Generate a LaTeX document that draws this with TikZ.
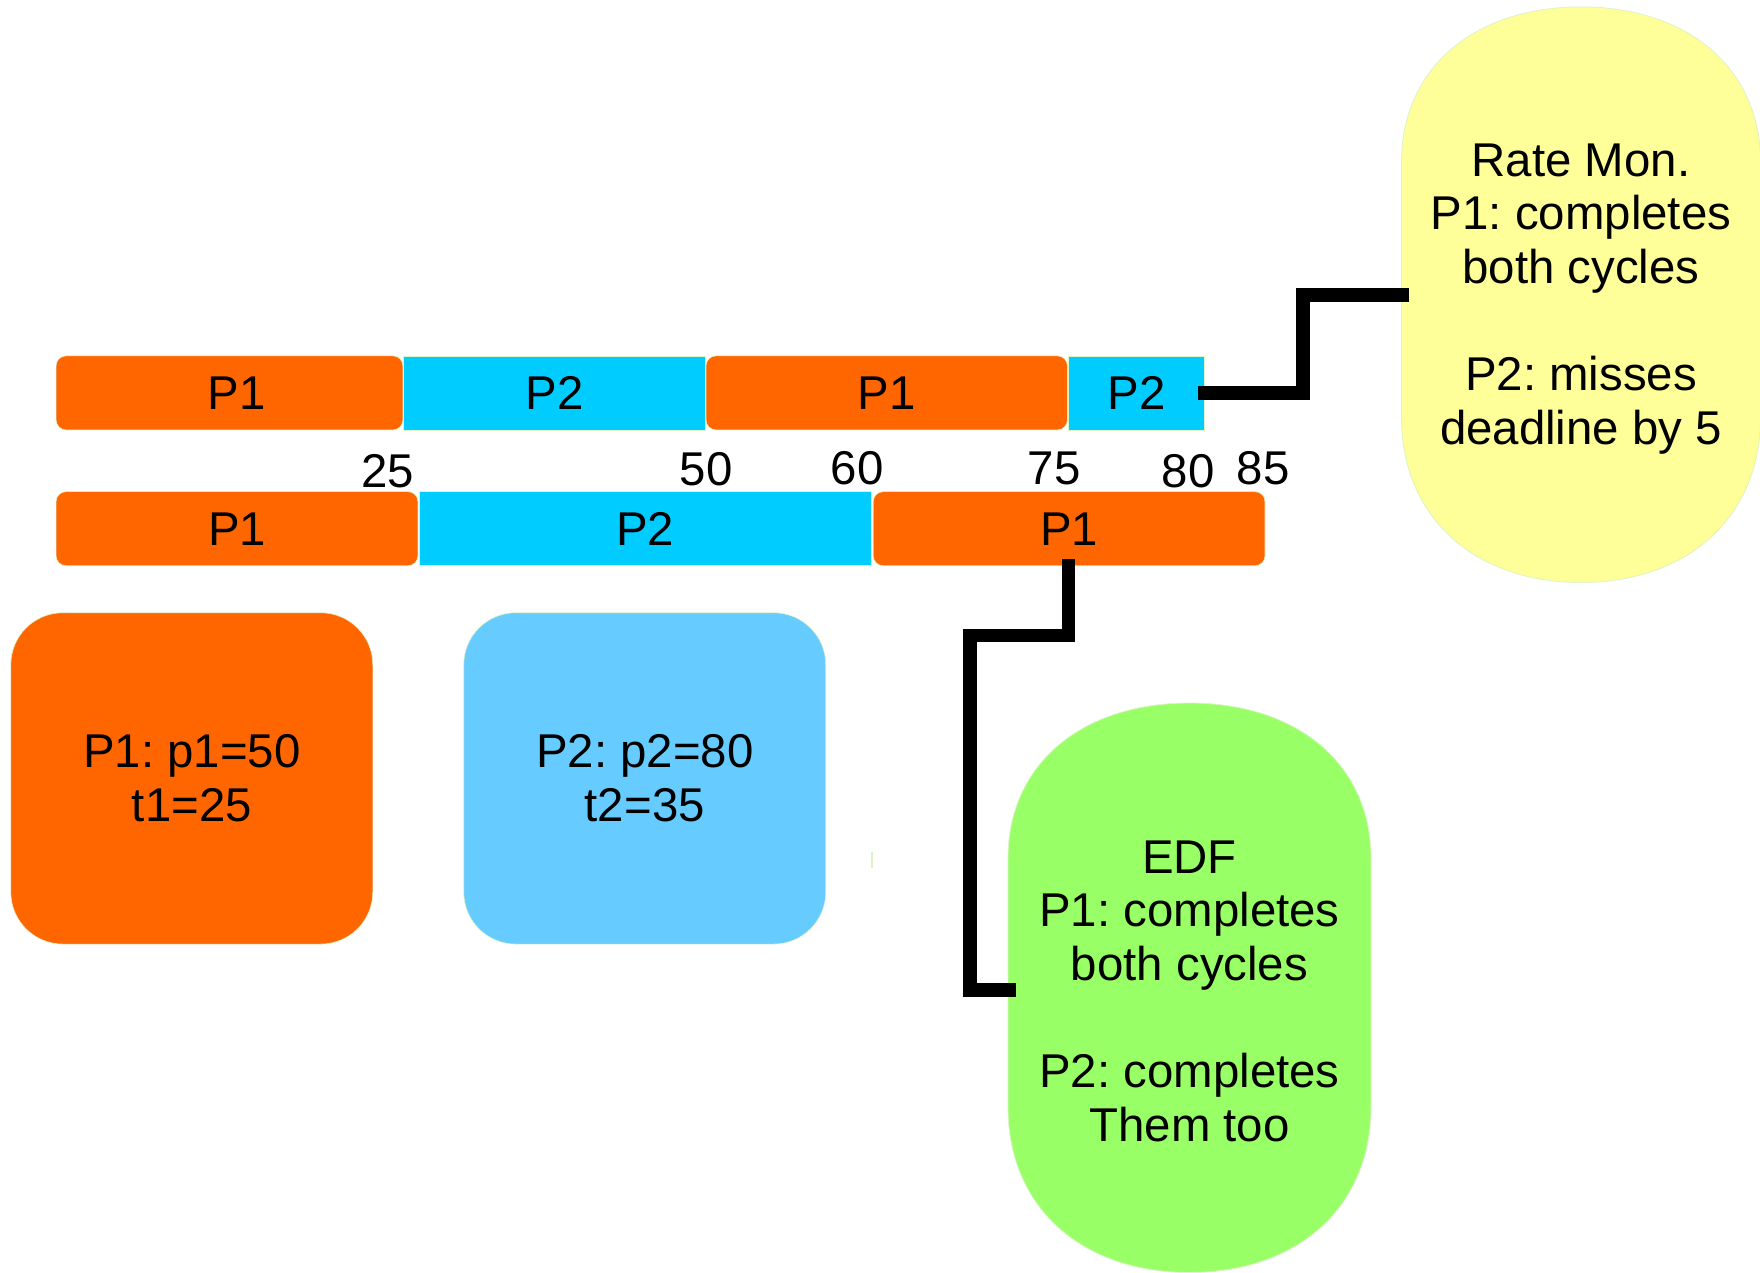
\documentclass[tikz,border=0pt]{standalone}
\usepackage{fontspec}
\setmainfont{Liberation Sans}
\frenchspacing
\usetikzlibrary{calc}
\definecolor{orng}{HTML}{FF6600}
\definecolor{cyn}{HTML}{00CCFF}
\definecolor{lblue}{HTML}{66CCFF}
\definecolor{ylw}{HTML}{FFFF99}
\definecolor{grn}{HTML}{99FF66}
\definecolor{edge}{HTML}{DDF3C8}
\begin{document}
\begin{tikzpicture}[x=0.5pt,y=-0.5pt,
  txt/.style={font=\fontsize{23.7pt}{26.8pt}\selectfont, text=black},
  bar/.style={txt, rectangle, draw=edge, line width=0.3pt, outer sep=0pt, inner sep=0pt, minimum height=37.05pt},
  p1bar/.style={bar, fill=orng, rounded corners=5pt},
  p2bar/.style={bar, fill=cyn},
  bigbox/.style={txt, rectangle, draw=edge, line width=0.3pt, rounded corners=26pt, minimum width=181pt, minimum height=165.65pt, align=center, outer sep=0pt},
  num/.style={txt, anchor=base, inner sep=0pt},
  conn/.style={draw=black, line width=6.9pt, line join=miter}
]
\useasboundingbox (0,0) rectangle (1760,1273);
% timeline bars, top row
\node[p1bar, minimum width=173.4pt] (t1) at (229.5,392.9) {\hspace*{7pt}P1};
\node[p2bar, minimum width=150.95pt] (t2) at (554.5,392.9) {P2};
\node[p1bar, minimum width=180.7pt] (t3) at (886.7,392.9) {P1};
\node[p2bar, minimum width=67.9pt] (t4) at (1136.4,392.9) {P2};
% timeline bars, second row
\node[p1bar, minimum width=180.95pt] (b1) at (237,528.7) {P1};
\node[p2bar, minimum width=226.25pt] (b2) at (645.25,528.7) {P2};
\node[p1bar, minimum width=195.9pt] (b3) at (1069.1,528.7) {P1};
% time marks
\node[num] (n25) at (388,487) {25};
\node[num] (n50) at (706,485) {50};
\node[num] (n60) at (857,484) {60};
\node[num] (n75) at (1054,484) {75};
\node[num] (n80) at (1188,487) {80};
\node[num] (n85) at (1263,484) {85};
% process boxes
\node[bigbox, fill=orng] (pa) at (191.8,778.4) {P1: p1=50\\t1=25};
\node[bigbox, fill=lblue] (pb) at (644.75,778.4) {P2: p2=80\\t2=35};
% yellow callout
\path[fill=ylw, draw=edge, line width=0.4pt]
  (1401.5,161.9) .. controls (1401.5,68.9) and (1473.3,6.9) .. (1581,6.9)
  .. controls (1688.7,6.9) and (1760.5,68.9) .. (1760.5,161.9)
  -- (1760.5,417.5)
  .. controls (1760.5,516.5) and (1688.7,582.5) .. (1581,582.5)
  .. controls (1473.3,582.5) and (1401.5,516.5) .. (1401.5,417.5) -- cycle;
\node[txt, align=center, inner sep=0pt] (rm) at (1581,298.7)
  {Rate Mon.\\P1: completes\\both cycles\\[26.8pt]P2: misses\\deadline by 5};
% green callout
\path[fill=grn, draw=edge, line width=0.4pt]
  (1008,858) .. controls (1008,765) and (1080.6,703) .. (1189.5,703)
  .. controls (1298.4,703) and (1371,765) .. (1371,858)
  -- (1371,1107.5)
  .. controls (1371,1206.5) and (1298.4,1272.5) .. (1189.5,1272.5)
  .. controls (1080.6,1272.5) and (1008,1206.5) .. (1008,1107.5) -- cycle;
\node[txt, align=center, inner sep=0pt] (edf) at (1189.5,991.1)
  {EDF\\P1: completes\\both cycles\\[26.8pt]P2: completes\\Them too};
% small mark
\draw[draw=edge, line width=0.6pt] (872,852) -- (872,868);
% connectors
\coordinate (k1) at (1302.6,294.7);
\coordinate (rmL) at (1408.6,294.7);
\coordinate (k2) at (970,635.5);
\coordinate (edfL) at (1016,990);
\draw[conn] ([xshift=-3pt]t4.east) -| (k1) -- (rmL);
\draw[conn] ([xshift=-0.3pt,yshift=3.4pt]b3.south) |- (k2) |- (edfL);
\end{tikzpicture}
\end{document}
